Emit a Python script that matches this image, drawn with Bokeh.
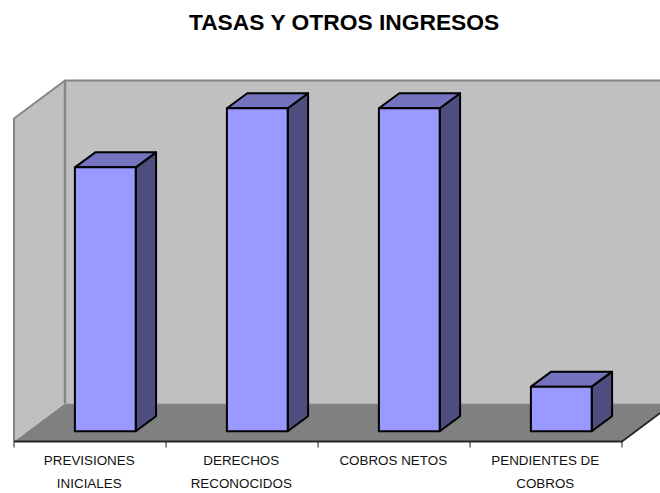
from bokeh.plotting import figure
from bokeh.embed import file_html
from bokeh.resources import INLINE
from bokeh.core.properties import value
from bokeh.models import Range1d

title = "TASAS Y OTROS INGRESOS"
categories = [["PREVISIONES", "INICIALES"], ["DERECHOS", "RECONOCIDOS"],
              ["COBROS NETOS"], ["PENDIENTES DE", "COBROS"]]
values = [81.7, 100.0, 100.0, 13.8]

W, H = 660, 493
CAT_PX = 152.0      # pixels per category
VAL_PX = 3.23       # pixels per value unit
DX, DY = 51 / CAT_PX, 38 / VAL_PX   # full depth vector in data units
X0_PX, Y0_PX = 13.5, 441.0
YMAX = 100.0
NCAT = len(categories)

p = figure(width=W, height=H, output_backend="svg", toolbar_location=None,
           x_range=Range1d(-X0_PX / CAT_PX, (W - X0_PX) / CAT_PX),
           y_range=Range1d((Y0_PX - H) / VAL_PX, Y0_PX / VAL_PX),
           min_border=0, min_border_left=0, min_border_right=0,
           min_border_top=0, min_border_bottom=0,
           outline_line_color=None, background_fill_color="white")
p.styles = {"position": "absolute", "left": "0px", "top": "0px"}
p.axis.visible = False
p.grid.visible = False

WALL, FLOOR, EDGE = "#C0C0C0", "#808080", "#868686"
FRONT, TOP, SIDE = "#9999FF", "#7373BF", "#4D4D80"

# walls and floor
bx = [0 + DX, NCAT + 1, NCAT + 1, 0 + DX]
by = [DY + YMAX, DY + YMAX, DY, DY]
p.patch(bx, by, fill_color=WALL, line_color=None)
p.patch([0, DX, DX, 0], [YMAX, YMAX + DY, DY, 0], fill_color=WALL, line_color=None)
p.patch([0, NCAT, NCAT + DX, DX], [0, 0, DY, DY], fill_color=FLOOR, line_color=None)
p.line([0, 0, DX, NCAT + 1], [0, YMAX, YMAX + DY, YMAX + DY], line_color=EDGE, line_width=2)
p.line([DX, DX], [YMAX + DY, DY], line_color=EDGE, line_width=2.5)

# axis base line and ticks
p.line([0, NCAT, NCAT + DX], [0, 0, DY], line_color="#262626", line_width=1.8)
tick_len = 6 / VAL_PX
p.segment(list(range(NCAT + 1)), [0] * (NCAT + 1), list(range(NCAT + 1)),
          [-tick_len] * (NCAT + 1), line_color="#1a1a1a", line_width=1)

# bars
D0X, D1X = 0.30, 0.70
D0Y, D1Y = 0.27, 0.665
BW = 0.4
for i, v in enumerate(values):
    xc = i + 0.5 + D0X * DX
    l, r = xc - BW / 2, xc + BW / 2
    b0, t0 = D0Y * DY, v + D0Y * DY
    sx, sy = (D1X - D0X) * DX, (D1Y - D0Y) * DY
    style = dict(line_color="black", line_width=2, line_join="round")
    p.patch([r, r + sx, r + sx, r], [b0, b0 + sy, t0 + sy, t0], fill_color=SIDE, **style)
    p.patch([l, r, r + sx, l + sx], [t0, t0, t0 + sy, t0 + sy], fill_color=TOP, **style)
    p.patch([l, r, r, l], [b0, b0, t0, t0], fill_color=FRONT, **style)

# category labels
for i, lines in enumerate(categories):
    for j, s in enumerate(lines):
        p.text([i + 0.495], [-(19 + 22.5 * j) / VAL_PX], text=[s],
               text_font=value("Liberation Sans"), text_font_size="13.4px",
               text_color="#111111", text_align="center", text_baseline="middle")

# title
p.text([(344 - X0_PX) / CAT_PX], [(Y0_PX - 21) / VAL_PX], text=[title],
       text_font=value("Liberation Sans"), text_font_style="bold",
       text_font_size="22.8px", text_color="#000000",
       text_align="center", text_baseline="middle")

open("out.html", "w").write(file_html(p, INLINE))
